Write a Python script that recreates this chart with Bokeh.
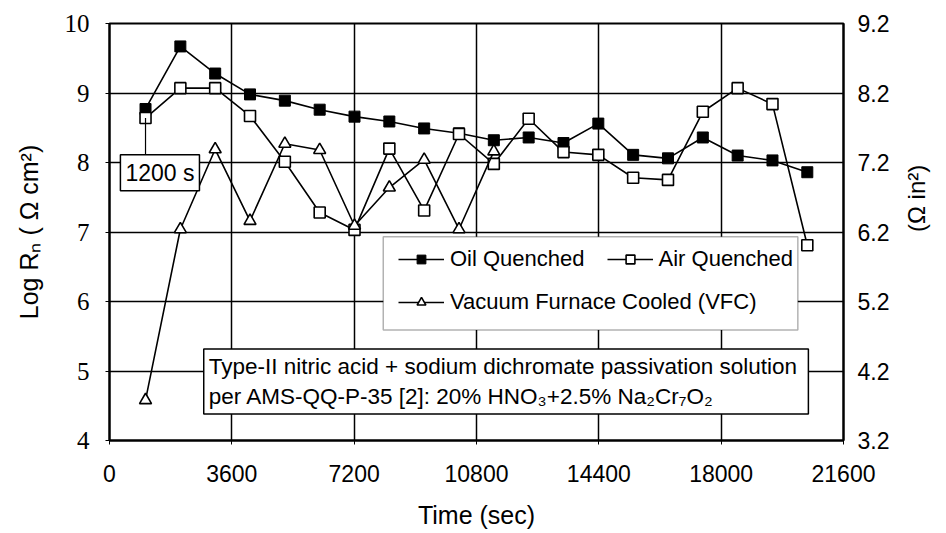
import math
from bokeh.plotting import figure
from bokeh.models import (Range1d, LinearAxis, FixedTicker, Legend, LegendItem,
                          Label, BoxAnnotation)
from bokeh.embed import file_html
from bokeh.resources import INLINE

# ---- data ----
time_s = [1060, 2085, 3110, 4135, 5160, 6185, 7210, 8235, 9260, 10285,
          11310, 12335, 13360, 14385, 15410, 16435, 17460, 18485, 19510, 20535]
oil_quenched = [8.77, 9.67, 9.28, 8.98, 8.89, 8.76, 8.66, 8.59, 8.49, 8.42,
                8.32, 8.36, 8.28, 8.56, 8.11, 8.06, 8.36, 8.10, 8.03, 7.86]
air_quenched = [8.64, 9.07, 9.07, 8.67, 8.01, 7.28, 7.03, 8.20, 7.31, 8.41,
                7.98, 8.63, 8.15, 8.11, 7.78, 7.75, 8.73, 9.07, 8.84, 6.81]
vfc_time_s = time_s[:11]
vfc = [4.58, 7.04, 8.19, 7.16, 8.27, 8.18, 7.09, 7.64, 8.04, 7.04, 8.16]

x_ticks = [0, 3600, 7200, 10800, 14400, 18000, 21600]
left_ticks = [4, 5, 6, 7, 8, 9, 10]
right_ticks = [3.2, 4.2, 5.2, 6.2, 7.2, 8.2, 9.2]

SANS = "Liberation Sans"
SERIF = "Liberation Serif"

p = figure(width=946, height=531, output_backend="svg", toolbar_location=None,
           x_range=Range1d(0, 21600), y_range=Range1d(4, 10),
           min_border_left=109, min_border_right=95,
           min_border_top=23, min_border_bottom=91)
p.background_fill_color = "white"
p.border_fill_color = "white"
p.outline_line_color = "black"
p.outline_line_width = 2

p.extra_y_ranges = {"right": Range1d(3.2, 9.2)}

# axes
p.xaxis.ticker = FixedTicker(ticks=x_ticks)
p.yaxis.ticker = FixedTicker(ticks=left_ticks)
for ax in (p.xaxis[0], p.yaxis[0]):
    ax.axis_line_color = "black"
    ax.axis_line_width = 2
    ax.major_tick_line_color = "black"
    ax.major_tick_out = 4
    ax.major_tick_in = 0
    ax.minor_tick_line_color = None
    ax.major_label_text_color = "black"
    ax.axis_label_text_color = "black"
    ax.axis_label_text_font_style = "normal"

p.xaxis.axis_label = "Time (sec)"
p.xaxis.major_label_text_font = SANS
p.xaxis.major_label_text_font_size = "23px"
p.xaxis.major_label_standoff = 20
p.xaxis.axis_label_text_font = SANS
p.xaxis.axis_label_text_font_size = "25px"
p.xaxis.axis_label_standoff = 16

p.yaxis.axis_label = "Log Rₙ ( Ω cm²)"
p.yaxis.major_label_text_font = SERIF
p.yaxis.major_label_text_font_size = "25px"
p.yaxis.major_label_standoff = 16
p.yaxis.axis_label_text_font = SANS
p.yaxis.axis_label_text_font_size = "25px"
p.yaxis.axis_label_standoff = 19

right_axis = LinearAxis(y_range_name="right", ticker=FixedTicker(ticks=right_ticks),
                        axis_label="(Ω in²)")
right_axis.axis_line_color = "black"
right_axis.axis_line_width = 2
right_axis.major_tick_out = 0
right_axis.major_tick_in = 0
right_axis.minor_tick_line_color = None
right_axis.major_label_text_font = SANS
right_axis.major_label_text_font_size = "23px"
right_axis.major_label_text_color = "black"
right_axis.major_label_standoff = 14
right_axis.axis_label_text_font = SANS
right_axis.axis_label_text_font_size = "24px"
right_axis.axis_label_text_font_style = "normal"
right_axis.axis_label_text_color = "black"
right_axis.axis_label_standoff = 24
right_axis.axis_label_orientation = math.pi / 2
p.add_layout(right_axis, "right")

# grid
p.xgrid.ticker = FixedTicker(ticks=x_ticks)
p.ygrid.ticker = FixedTicker(ticks=left_ticks)
for g in (p.xgrid[0], p.ygrid[0]):
    g.grid_line_color = "black"
    g.grid_line_width = 1.5
    g.grid_line_alpha = 1.0

# series
oil_line = p.line(time_s, oil_quenched, line_color="black", line_width=1.6)
oil_pts = p.scatter(time_s, oil_quenched, marker="square", size=11,
                    fill_color="black", line_color="black")
air_line = p.line(time_s, air_quenched, line_color="black", line_width=1.6)
air_pts = p.scatter(time_s, air_quenched, marker="square", size=11,
                    fill_color="white", line_color="black", line_width=1.6)
vfc_line = p.line(vfc_time_s, vfc, line_color="black", line_width=1.6)
vfc_pts = p.scatter(vfc_time_s, vfc, marker="triangle", size=12,
                    fill_color="white", line_color="black", line_width=1.6)

# "1200 s" callout
p.segment(x0=[time_s[0]], y0=[air_quenched[0]], x1=[time_s[0]], y1=[8.11],
          line_color="black", line_width=1.2)
p.add_layout(Label(x=321, y=8.11, text="1200 s", anchor="top_left",
                   text_font=SANS, text_font_size="23px", text_color="black",
                   padding=5, background_fill_color="white",
                   border_line_color="black", border_line_width=1.5))

# legend box
p.add_layout(BoxAnnotation(left=8056, right=20256, top=6.93, bottom=5.59,
                           fill_color="white", fill_alpha=1.0,
                           line_color="black", line_width=1.5))

def make_legend(items, loc):
    lg = Legend(items=items, location=loc, orientation="horizontal",
                border_line_alpha=0, background_fill_alpha=0,
                padding=0, margin=0, spacing=22, label_standoff=6,
                glyph_width=46, glyph_height=22, label_height=22,
                label_text_font=SANS, label_text_font_size="22px",
                label_text_color="black")
    return lg

lg1 = make_legend([LegendItem(label="Oil Quenched", renderers=[oil_line, oil_pts]),
                   LegendItem(label="Air Quenched", renderers=[air_line, air_pts])],
                  (289, 168))
lg2 = make_legend([LegendItem(label="Vacuum Furnace Cooled (VFC)",
                              renderers=[vfc_line, vfc_pts])],
                  (289, 125))
p.add_layout(lg1)
p.add_layout(lg2)

# passivation note
p.add_layout(Label(x=2773, y=5.317, anchor="top_left",
                   text="Type-II nitric acid + sodium dichromate  passivation solution\n"
                        "per AMS-QQ-P-35 [2]: 20% HNO₃+2.5% Na₂Cr₇O₂",
                   text_font=SANS, text_font_size="22.5px", text_color="black",
                   text_line_height=1.2,
                   padding=5, background_fill_color="white",
                   border_line_color="black", border_line_width=1.5))

open("out.html", "w").write(file_html(p, INLINE))
